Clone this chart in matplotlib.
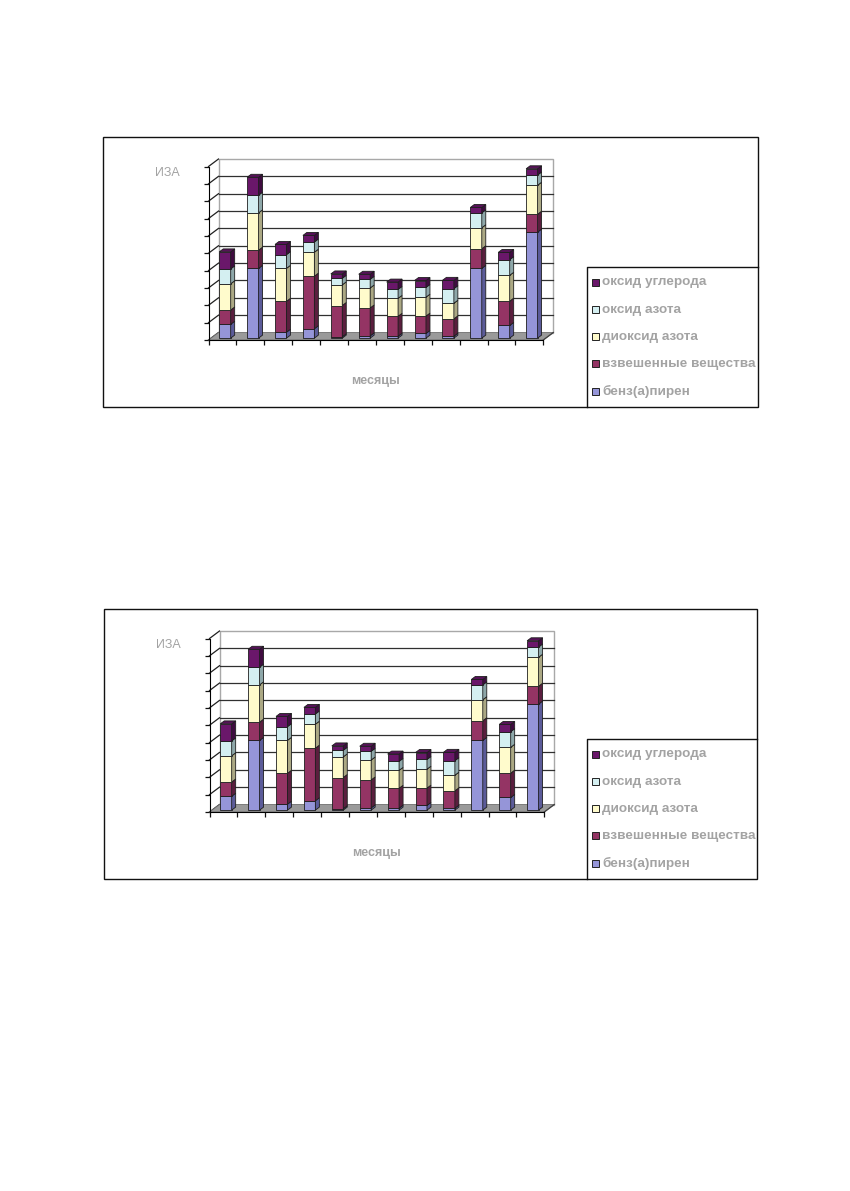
import matplotlib
matplotlib.use("Agg")
import matplotlib.pyplot as plt
from matplotlib.patches import Polygon, Rectangle

# ---------------- data ----------------
months = list(range(1, 13))
series_names = ["бенз(а)пирен", "взвешенные вещества", "диоксид азота",
                "оксид азота", "оксид углерода"]
benzapiren = [0.80, 4.02, 0.34, 0.54, 0.08, 0.13, 0.11, 0.27, 0.11, 4.02, 0.73, 6.11]
vzveshennye = [0.82, 1.05, 1.78, 3.03, 1.80, 1.61, 1.15, 1.00, 1.00, 1.13, 1.40, 1.03]
dioksid_azota = [1.51, 2.15, 1.90, 1.38, 1.19, 1.15, 1.03, 1.09, 0.90, 1.21, 1.49, 1.67]
oksid_azota = [0.86, 1.02, 0.79, 0.59, 0.38, 0.50, 0.52, 0.56, 0.84, 0.86, 0.90, 0.59]
oksid_ugleroda = [0.98, 1.03, 0.59, 0.38, 0.25, 0.29, 0.42, 0.40, 0.48, 0.31, 0.42, 0.36]
series_values = [benzapiren, vzveshennye, dioksid_azota, oksid_azota, oksid_ugleroda]
y_ticks = list(range(0, 11))
y_label = "ИЗА"
x_label = "месяцы"

# ---------------- style ----------------
front_colors = ["#9595D8", "#943464", "#FFFBCC", "#D4EFF1", "#6A176A"]
side_colors = ["#5B5B99", "#5A1E3E", "#ABA884", "#8EA7A9", "#3F0C40"]
top_colors = ["#7777B9", "#782A52", "#D8D5AA", "#B1CBCC", "#561258"]
text_color = "#A3A3A3"
edge = "#1E1E1E"

W, H = 850, 1191
fig = plt.figure(figsize=(W / 100, H / 100), dpi=100)
fig.patch.set_facecolor("white")

overlay = fig.add_axes([0, 0, 1, 1], zorder=5)
overlay.set_xlim(0, W)
overlay.set_ylim(H, 0)
overlay.axis("off")
overlay.patch.set_alpha(0)

# pixel geometry of front plane
X0PX, XUNIT = 208.5, 27.9
Y0PX, YUNIT = 340.0, 17.35
DX = 10.0 / XUNIT   # full depth in x data units
DY = 7.5 / YUNIT    # full depth in y data units
XL = (-0.6, 12.6)
YL = (-0.6, 10.8)


def draw_chart(dxp, dyp, rdx):
    # frames
    fl, fr, ft, fb = 103.5 + dxp, 758 + rdx, 137 + dyp, 407 + dyp
    overlay.add_patch(Rectangle((fl, ft), fr - fl, fb - ft, fill=False,
                                edgecolor="#111111", lw=1.0))
    lgl, lgt = 587, 267 + dyp
    overlay.plot([lgl, lgl, fr], [fb, lgt, lgt], color="#111111", lw=1.0)
    # legend (top entry = last series)
    for k, name in enumerate(reversed(series_names)):
        idx = len(series_names) - 1 - k
        yc = 282 + dyp + k * 27.3
        overlay.add_patch(Rectangle((592.5, yc - 3.5), 7, 7,
                                    facecolor=front_colors[idx],
                                    edgecolor="#222222", lw=0.7))
        overlay.text(602.5, yc + 0.5, name, fontsize=9.7, color=text_color,
                     family="Liberation Sans", fontweight="bold",
                     ha="left", va="center")
    overlay.text(167.5 + dxp, 173 + dyp, y_label, fontsize=9, color=text_color,
                 family="Liberation Sans", ha="center", va="center")
    overlay.text(376 + dxp, 381 + dyp, x_label, fontsize=9, color=text_color,
                 family="Liberation Sans", fontweight="bold",
                 ha="center", va="center")

    # data axes
    x0px = X0PX + dxp
    y0px = Y0PX + dyp
    left = x0px + XL[0] * XUNIT
    right = x0px + XL[1] * XUNIT
    bottom = y0px - YL[0] * YUNIT
    top = y0px - YL[1] * YUNIT
    ax = fig.add_axes([left / W, 1 - bottom / H, (right - left) / W,
                       (bottom - top) / H], zorder=3)
    ax.set_xlim(*XL)
    ax.set_ylim(*YL)
    ax.patch.set_alpha(0)
    nc = len(months)
    ymax = y_ticks[-1]

    # back wall
    ax.add_patch(Rectangle((DX, DY), nc, ymax, facecolor="white",
                           edgecolor="#A8A8A8", lw=1.0, zorder=1))
    for t in y_ticks[1:-1]:
        ax.plot([DX, nc + DX], [t + DY, t + DY], color="#303030", lw=0.9, zorder=2)
    for t in y_ticks:
        ax.plot([0, DX], [t, t + DY], color="#202020", lw=0.9, zorder=2,
                clip_on=False)
    # floor
    ax.add_patch(Polygon([(0, 0), (nc, 0), (nc + DX, DY), (DX, DY)],
                         closed=True, facecolor="#9A9A9A", edgecolor="#707070",
                         lw=0.6, zorder=2))
    ax.plot([nc, nc + DX], [0, DY], color="#404040", lw=0.9, zorder=2)

    # bars
    bw = 0.41
    bf = 0.25   # depth fraction of bar front plane
    bd = 0.40   # depth fraction of bar
    bdx, bdy = bd * DX, bd * DY
    for i in range(nc):
        xl = i + 0.5 - bw / 2 + bf * DX
        base = 0.0
        for s, vals in enumerate(series_values):
            h = vals[i]
            y0 = base + bf * DY
            ax.bar(xl, h, width=bw, bottom=y0, align="edge",
                   color=front_colors[s], edgecolor=edge, linewidth=0.6,
                   zorder=4)
            xr = xl + bw
            ax.add_patch(Polygon([(xr, y0), (xr + bdx, y0 + bdy),
                                  (xr + bdx, y0 + h + bdy), (xr, y0 + h)],
                                 closed=True, facecolor=side_colors[s],
                                 edgecolor=edge, lw=0.6, zorder=4))
            base += h
        yt = base + bf * DY
        s = len(series_values) - 1
        ax.add_patch(Polygon([(xl, yt), (xl + bw, yt), (xl + bw + bdx, yt + bdy),
                              (xl + bdx, yt + bdy)], closed=True,
                             facecolor=top_colors[s], edgecolor=edge, lw=0.6,
                             zorder=4))

    # axes lines & ticks
    for sp in ["top", "right"]:
        ax.spines[sp].set_visible(False)
    ax.spines["left"].set_position(("data", 0))
    ax.spines["bottom"].set_position(("data", 0))
    ax.spines["left"].set_bounds(0, ymax)
    ax.spines["bottom"].set_bounds(0, nc)
    ax.spines["left"].set_zorder(5)
    ax.spines["bottom"].set_zorder(5)
    ax.set_xticks(range(nc + 1))
    ax.set_yticks(y_ticks)
    ax.set_xticklabels([])
    ax.set_yticklabels([])
    ax.tick_params(direction="out", length=3.5, width=0.9, color="#111111")


draw_chart(0, 0, 0)
draw_chart(1, 472, -1)

fig.savefig("out.png", dpi=100, facecolor="white")
